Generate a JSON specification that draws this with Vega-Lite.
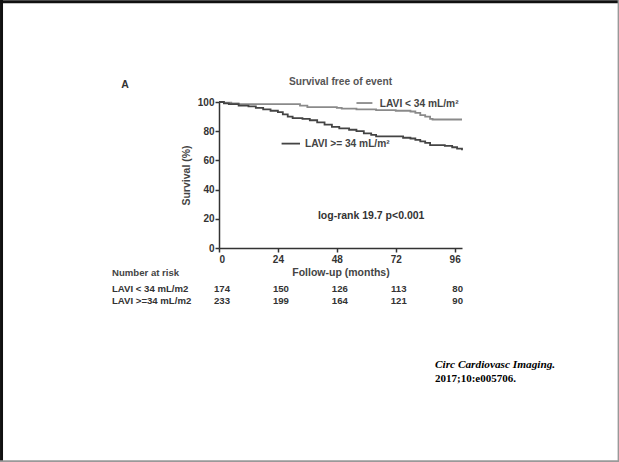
{
  "$schema": "https://vega.github.io/schema/vega-lite/v6.json",
  "width": 243,
  "height": 146,
  "autosize": "none",
  "padding": {"left": 219, "top": 102, "right": 157, "bottom": 214},
  "background": "white",
  "config": {
    "view": {"stroke": null},
    "font": "Liberation Sans",
    "axis": {
      "grid": false,
      "domainColor": "#333",
      "domainWidth": 1.5,
      "tickColor": "#333",
      "tickWidth": 1.5,
      "tickSize": 4,
      "labelFont": "Liberation Sans",
      "labelFontWeight": "bold",
      "labelFontSize": 10,
      "labelColor": "#333",
      "titleFont": "Liberation Sans",
      "titleFontWeight": "bold",
      "titleFontSize": 10.5,
      "titleColor": "#444"
    }
  },
  "datasets": {
    "curves": [
      {"group": "LAVI < 34 mL/m2", "month": 0, "survival": 100},
      {"group": "LAVI < 34 mL/m2", "month": 2, "survival": 99.5},
      {"group": "LAVI < 34 mL/m2", "month": 5, "survival": 99},
      {"group": "LAVI < 34 mL/m2", "month": 8, "survival": 98.5},
      {"group": "LAVI < 34 mL/m2", "month": 30, "survival": 98.5},
      {"group": "LAVI < 34 mL/m2", "month": 33, "survival": 97.5},
      {"group": "LAVI < 34 mL/m2", "month": 36, "survival": 96.5},
      {"group": "LAVI < 34 mL/m2", "month": 48, "survival": 96},
      {"group": "LAVI < 34 mL/m2", "month": 50, "survival": 95.5},
      {"group": "LAVI < 34 mL/m2", "month": 56, "survival": 95},
      {"group": "LAVI < 34 mL/m2", "month": 64, "survival": 94.5},
      {"group": "LAVI < 34 mL/m2", "month": 72, "survival": 94},
      {"group": "LAVI < 34 mL/m2", "month": 78, "survival": 93.5},
      {"group": "LAVI < 34 mL/m2", "month": 80, "survival": 92.5},
      {"group": "LAVI < 34 mL/m2", "month": 82, "survival": 91},
      {"group": "LAVI < 34 mL/m2", "month": 84, "survival": 90},
      {"group": "LAVI < 34 mL/m2", "month": 86, "survival": 88.5},
      {"group": "LAVI < 34 mL/m2", "month": 87, "survival": 88},
      {"group": "LAVI < 34 mL/m2", "month": 99, "survival": 88},
      {"group": "LAVI >= 34 mL/m2", "month": 0, "survival": 100},
      {"group": "LAVI >= 34 mL/m2", "month": 2, "survival": 99},
      {"group": "LAVI >= 34 mL/m2", "month": 4, "survival": 98.5},
      {"group": "LAVI >= 34 mL/m2", "month": 8, "survival": 97.5},
      {"group": "LAVI >= 34 mL/m2", "month": 12, "survival": 97},
      {"group": "LAVI >= 34 mL/m2", "month": 15, "survival": 96},
      {"group": "LAVI >= 34 mL/m2", "month": 18, "survival": 95},
      {"group": "LAVI >= 34 mL/m2", "month": 21, "survival": 94},
      {"group": "LAVI >= 34 mL/m2", "month": 24, "survival": 93},
      {"group": "LAVI >= 34 mL/m2", "month": 26, "survival": 91.5},
      {"group": "LAVI >= 34 mL/m2", "month": 28, "survival": 90},
      {"group": "LAVI >= 34 mL/m2", "month": 30, "survival": 89},
      {"group": "LAVI >= 34 mL/m2", "month": 34, "survival": 88.5},
      {"group": "LAVI >= 34 mL/m2", "month": 37, "survival": 87.5},
      {"group": "LAVI >= 34 mL/m2", "month": 40, "survival": 86},
      {"group": "LAVI >= 34 mL/m2", "month": 43, "survival": 84.5},
      {"group": "LAVI >= 34 mL/m2", "month": 46, "survival": 83},
      {"group": "LAVI >= 34 mL/m2", "month": 49, "survival": 82},
      {"group": "LAVI >= 34 mL/m2", "month": 53, "survival": 81},
      {"group": "LAVI >= 34 mL/m2", "month": 56, "survival": 80},
      {"group": "LAVI >= 34 mL/m2", "month": 59, "survival": 78.5},
      {"group": "LAVI >= 34 mL/m2", "month": 62, "survival": 77.5},
      {"group": "LAVI >= 34 mL/m2", "month": 64, "survival": 76.5},
      {"group": "LAVI >= 34 mL/m2", "month": 70, "survival": 76.5},
      {"group": "LAVI >= 34 mL/m2", "month": 75, "survival": 75.5},
      {"group": "LAVI >= 34 mL/m2", "month": 78, "survival": 75},
      {"group": "LAVI >= 34 mL/m2", "month": 80, "survival": 74},
      {"group": "LAVI >= 34 mL/m2", "month": 82, "survival": 73},
      {"group": "LAVI >= 34 mL/m2", "month": 84, "survival": 72},
      {"group": "LAVI >= 34 mL/m2", "month": 86, "survival": 70.5},
      {"group": "LAVI >= 34 mL/m2", "month": 92, "survival": 70},
      {"group": "LAVI >= 34 mL/m2", "month": 95, "survival": 69},
      {"group": "LAVI >= 34 mL/m2", "month": 97, "survival": 68},
      {"group": "LAVI >= 34 mL/m2", "month": 99, "survival": 67}
    ],
    "risk": [
      {"row": "LAVI < 34 mL/m2", "month": 0, "n": 174},
      {"row": "LAVI < 34 mL/m2", "month": 24, "n": 150},
      {"row": "LAVI < 34 mL/m2", "month": 48, "n": 126},
      {"row": "LAVI < 34 mL/m2", "month": 72, "n": 113},
      {"row": "LAVI < 34 mL/m2", "month": 96, "n": 80},
      {"row": "LAVI >=34 mL/m2", "month": 0, "n": 233},
      {"row": "LAVI >=34 mL/m2", "month": 24, "n": 199},
      {"row": "LAVI >=34 mL/m2", "month": 48, "n": 164},
      {"row": "LAVI >=34 mL/m2", "month": 72, "n": 121},
      {"row": "LAVI >=34 mL/m2", "month": 96, "n": 90}
    ]
  },
  "layer": [
    {
      "data": {"name": "curves"},
      "mark": {"type": "line", "interpolate": "step-after", "strokeWidth": 1.8, "clip": false},
      "encoding": {
        "x": {
          "field": "month", "type": "quantitative",
          "scale": {"domain": [0, 99], "nice": false, "zero": false},
          "axis": {"values": [0, 24, 48, 72, 96], "tickCount": 10, "title": "Follow-up (months)", "labelPadding": 2, "titlePadding": 3, "labelOverlap": false}
        },
        "y": {
          "field": "survival", "type": "quantitative",
          "scale": {"domain": [0, 100], "nice": false},
          "axis": {"values": [0, 20, 40, 60, 80, 100], "tickCount": 10, "title": "Survival (%)", "labelPadding": 1, "titlePadding": 6, "labelOverlap": false, "labelSeparation": 0, "labelBound": false, "labelFlush": false}
        },
        "color": {
          "field": "group", "type": "nominal",
          "scale": {"domain": ["LAVI < 34 mL/m2", "LAVI >= 34 mL/m2"], "range": ["#8a8a8a", "#444444"]},
          "legend": null
        }
      }
    },
    {
      "data": {"values": [{}]},
      "mark": {"type": "text", "align": "center", "baseline": "middle", "fontWeight": "bold", "fontSize": 10.2, "color": "#555", "text": "Survival free of event"},
      "encoding": {"x": {"datum": 49.5}, "y": {"datum": 114}}
    },
    {
      "data": {"values": [{}]},
      "mark": {"type": "rule", "color": "#8a8a8a", "strokeWidth": 1.8},
      "encoding": {"x": {"datum": 56}, "x2": {"datum": 62.5}, "y": {"datum": 99.3}}
    },
    {
      "data": {"values": [{}]},
      "mark": {"type": "text", "align": "left", "baseline": "middle", "fontWeight": "bold", "fontSize": 10.2, "color": "#444", "text": "LAVI < 34 mL/m²"},
      "encoding": {"x": {"datum": 65.5}, "y": {"datum": 98.6}}
    },
    {
      "data": {"values": [{}]},
      "mark": {"type": "rule", "color": "#444444", "strokeWidth": 1.8},
      "encoding": {"x": {"datum": 25.5}, "x2": {"datum": 33}, "y": {"datum": 71.5}}
    },
    {
      "data": {"values": [{}]},
      "mark": {"type": "text", "align": "left", "baseline": "middle", "fontWeight": "bold", "fontSize": 10.2, "color": "#444", "text": "LAVI >= 34 mL/m²"},
      "encoding": {"x": {"datum": 35}, "y": {"datum": 71.5}}
    },
    {
      "data": {"values": [{}]},
      "mark": {"type": "text", "align": "center", "baseline": "middle", "fontWeight": "bold", "fontSize": 10.5, "color": "#333", "text": "log-rank 19.7 p<0.001"},
      "encoding": {"x": {"datum": 62}, "y": {"datum": 21.9}}
    },
    {
      "data": {"values": [{}]},
      "mark": {"type": "text", "align": "center", "baseline": "middle", "fontWeight": "bold", "fontSize": 10.5, "color": "#333", "text": "A"},
      "encoding": {"x": {"datum": -38.3}, "y": {"datum": 111.6}}
    },
    {
      "data": {"values": [{}]},
      "mark": {"type": "text", "align": "left", "baseline": "middle", "fontWeight": "bold", "fontSize": 9.6, "color": "#444", "text": "Number at risk"},
      "encoding": {"x": {"datum": -43.6}, "y": {"datum": -17.1}}
    },
    {
      "data": {"values": [{"row": "LAVI < 34 mL/m2", "level": -28.1}, {"row": "LAVI >=34 mL/m2", "level": -36.6}]},
      "mark": {"type": "text", "align": "left", "baseline": "middle", "fontWeight": "bold", "fontSize": 9.6, "color": "#333"},
      "encoding": {"x": {"datum": -43.6}, "y": {"field": "level", "type": "quantitative"}, "text": {"field": "row"}}
    },
    {
      "data": {"name": "risk"},
      "transform": [{"lookup": "row", "from": {"data": {"values": [{"row": "LAVI < 34 mL/m2", "level": -28.1}, {"row": "LAVI >=34 mL/m2", "level": -36.6}]}, "key": "row", "fields": ["level"]}}],
      "mark": {"type": "text", "align": "center", "baseline": "middle", "fontWeight": "bold", "fontSize": 9.6, "color": "#333", "dx": 3},
      "encoding": {"x": {"field": "month", "type": "quantitative"}, "y": {"field": "level", "type": "quantitative"}, "text": {"field": "n"}}
    },
    {
      "data": {"values": [{}]},
      "mark": {"type": "text", "align": "left", "baseline": "middle", "font": "Liberation Serif", "fontStyle": "italic", "fontWeight": "bold", "fontSize": 11.3, "color": "#000", "text": "Circ Cardiovasc Imaging."},
      "encoding": {"x": {"datum": 88}, "y": {"datum": -80.1}}
    },
    {
      "data": {"values": [{}]},
      "mark": {"type": "text", "align": "left", "baseline": "middle", "font": "Liberation Serif", "fontWeight": "bold", "fontSize": 11, "color": "#000", "text": "2017;10:e005706."},
      "encoding": {"x": {"datum": 88}, "y": {"datum": -89.7}}
    },
    {
      "data": {"values": [{}]},
      "mark": {"type": "rule", "color": "#111", "strokeWidth": 3},
      "encoding": {"x": {"datum": -88.6}, "y": {"datum": 170}, "y2": {"datum": -146.6}}
    },
    {
      "data": {"values": [{}]},
      "mark": {"type": "rule", "color": "#111", "strokeWidth": 3},
      "encoding": {"x": {"datum": -89.5}, "x2": {"datum": 163}, "y": {"datum": 168.6}}
    },
    {
      "data": {"values": [{}]},
      "mark": {"type": "rule", "color": "#999", "strokeWidth": 2},
      "encoding": {"x": {"datum": 162.8}, "y": {"datum": 170}, "y2": {"datum": -146.6}}
    },
    {
      "data": {"values": [{}]},
      "mark": {"type": "rule", "color": "#999", "strokeWidth": 2},
      "encoding": {"x": {"datum": -89.5}, "x2": {"datum": 163}, "y": {"datum": -146.1}}
    }
  ]
}
